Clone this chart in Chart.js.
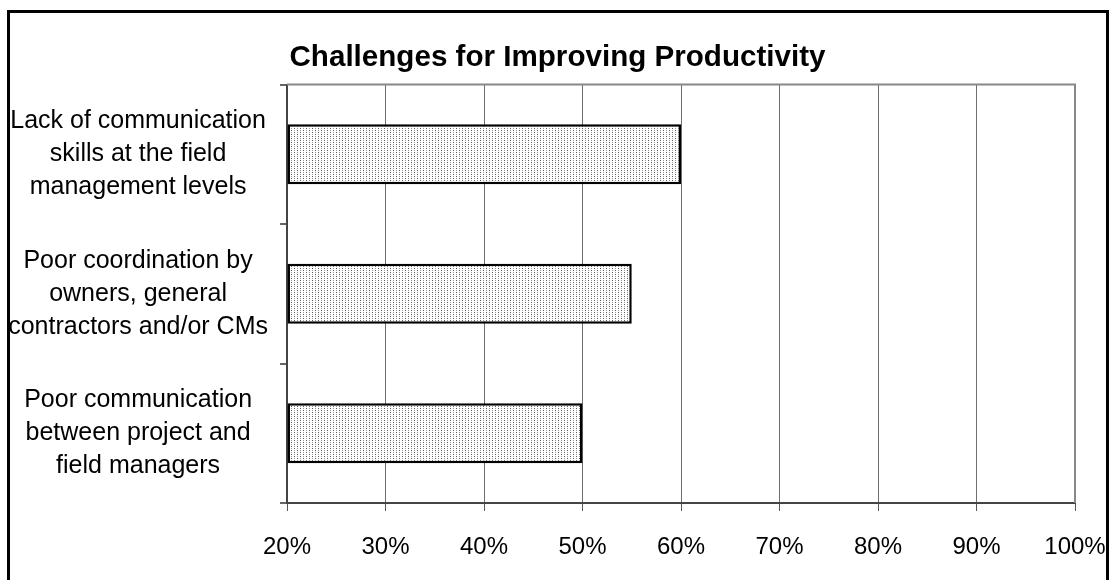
<!DOCTYPE html>
<html>
<head>
<meta charset="utf-8">
<script src="https://cdn.jsdelivr.net/npm/chart.js@4/dist/chart.umd.min.js"></script>
<style>
  html, body { margin: 0; padding: 0; background: #fff; }
  body { width: 1112px; height: 580px; overflow: hidden; position: relative; }
  .frame {
    position: absolute; left: 7px; top: 10px; width: 1102px; height: 600px;
    border: 3px solid #000; box-sizing: border-box;
  }
  .wrap { position: absolute; left: 0; top: 0; width: 1112px; height: 580px; }
</style>
</head>
<body>
<div class="frame"></div>
<div class="wrap"><canvas id="chart"></canvas></div>
<script>
// chart data
const categories = [
  ["Lack of communication", "skills at the field", "management levels"],
  ["Poor coordination by", "owners, general", "contractors and/or CMs"],
  ["Poor communication", "between project and", "field managers"]
];
const values = [60, 55, 50];
const tickMin = 20;
const tickMax = 100;

// dotted fill, like the old excel pattern
function dotPattern() {
  const c = document.createElement("canvas");
  c.width = 6; c.height = 4;
  const g = c.getContext("2d");
  g.fillStyle = "#fff";
  g.fillRect(0, 0, 6, 4);
  g.fillStyle = "#5a5a5a";
  g.fillRect(0, 0, 1, 1);
  g.fillRect(3, 2, 1, 1);
  g.fillStyle = "#9a9a9a";
  g.fillRect(0, 2, 1, 1);
  g.fillRect(3, 0, 1, 1);
  return g.createPattern(c, "repeat");
}

// gray frame on top/right of the plot area + title centred over the whole box
const plotFrame = {
  id: "plotFrame",
  afterLayout(chart) {
    const t = chart.titleBlock;
    if (t) { t.left = 40; t.right = chart.chartArea.right; }
  },
  afterDatasetsDraw(chart) {
    const a = chart.chartArea, ctx = chart.ctx;
    ctx.save();
    ctx.strokeStyle = "#888";
    ctx.lineWidth = 2;
    ctx.beginPath();
    ctx.moveTo(a.left, a.top);
    ctx.lineTo(a.right, a.top);
    ctx.lineTo(a.right, a.bottom);
    ctx.stroke();
    ctx.restore();
  }
};

const ctx = document.getElementById("chart");

new Chart(ctx, {
  type: "bar",
  data: {
    labels: categories,
    datasets: [{
      data: values,
      base: tickMin,
      backgroundColor: dotPattern(),
      borderColor: "#000",
      borderWidth: 2.5,
      borderSkipped: false,
      categoryPercentage: 1,
      barPercentage: 0.43
    }]
  },
  options: {
    indexAxis: "y",
    responsive: true,
    maintainAspectRatio: false,
    animation: false,
    layout: { padding: { left: 10, right: 37, top: 0, bottom: 0 } },
    plugins: {
      legend: { display: false },
      tooltip: { enabled: false },
      title: {
        display: true,
        text: "Challenges for Improving Productivity",
        color: "#000",
        font: { family: "Arial, 'Liberation Sans'", size: 29.6, weight: "bold" },
        padding: { top: 40, bottom: 9 }
      }
    },
    scales: {
      x: {
        min: tickMin,
        max: tickMax,
        ticks: {
          stepSize: 10,
          color: "#000",
          padding: 22,
          font: { family: "Arial, 'Liberation Sans'", size: 24 },
          callback: v => v + "%"
        },
        grid: { color: "#6e6e6e", lineWidth: 1, tickLength: 8, tickColor: "#555" },
        border: { color: "#444", width: 2 },
        afterFit(s) {
          s.height = 77;
          s.paddingLeft = 0;
          s.paddingRight = 0;
        }
      },
      y: {
        offset: true,
        ticks: {
          color: "#000",
          crossAlign: "center",
          padding: 12,
          font: { family: "Arial, 'Liberation Sans'", size: 25, lineHeight: 1.32 }
        },
        grid: { offset: true, drawOnChartArea: false, tickLength: 7, tickColor: "#666", lineWidth: 2 },
        border: { color: "#444", width: 2 },
        afterFit(s) { s.width = 277; }
      }
    }
  },
  plugins: [plotFrame]
});
</script>
</body>
</html>
